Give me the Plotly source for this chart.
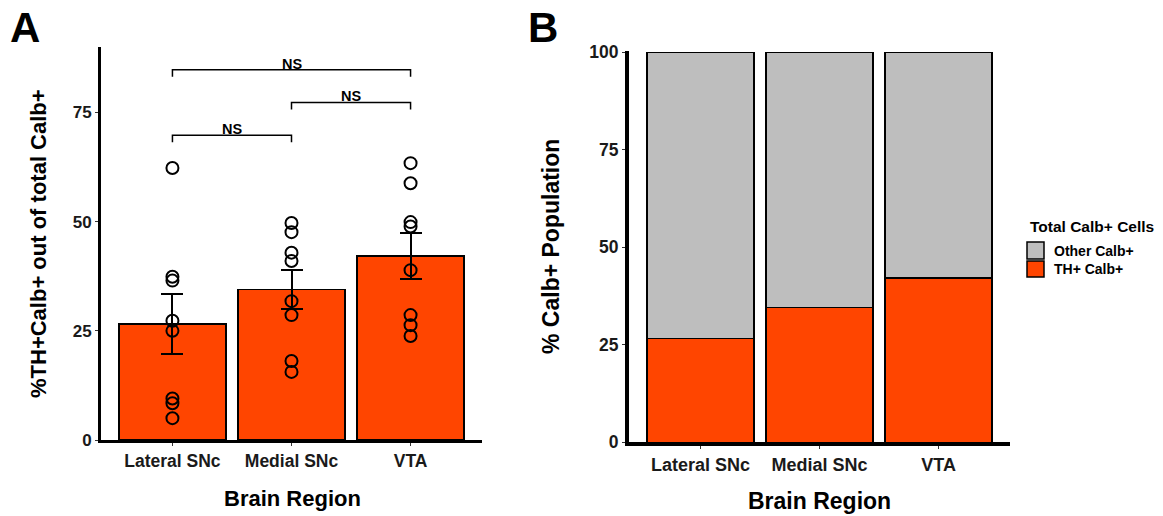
import plotly.graph_objects as go

# ---------------- data ----------------
regions = ["Lateral SNc", "Medial SNc", "VTA"]

# Panel A: individual animals (% TH+Calb+ of total Calb+)
lateral_pts = [62.3, 37.4, 36.5, 27.3, 25.0, 9.5, 8.4, 5.0]
medial_pts = [49.7, 47.6, 42.9, 41.0, 31.8, 28.6, 18.1, 15.6]
vta_pts = [63.4, 58.8, 49.9, 48.9, 38.9, 28.6, 26.3, 23.8]
means_a = [26.6, 34.5, 42.1]
sem_a = [6.8, 4.5, 5.3]

# significance brackets: (group i, group j, height, label)
brackets = [(0, 1, 69.8, "NS"), (1, 2, 77.3, "NS"), (0, 2, 84.8, "NS")]
bracket_tip = 1.6

# Panel B: stacked percentage of Calb+ population
th_calb = [26.6, 34.5, 42.1]
other_calb = [73.4, 65.5, 57.9]

y_ticks_a = [0, 25, 50, 75]
y_ticks_b = [0, 25, 50, 75, 100]

legend_title = "Total Calb+ Cells"
legend_names = ["Other Calb+", "TH+ Calb+"]

# ---------------- style ----------------
ORANGE = "#FF4500"
GREY = "#BEBEBE"
FONT = "Liberation Sans"
FW, FH = 1163, 516


def px(X):
    return X / FW


def py(Y):
    return 1 - Y / FH


def bold(size, color="black"):
    return dict(family=FONT, size=size, color=color, weight="bold")


def label(X, Y, text, size, angle=0, xanchor="center"):
    fig.add_annotation(x=px(X), y=py(Y), xref="paper", yref="paper",
                       xanchor=xanchor, yanchor="middle", text=text,
                       showarrow=False, textangle=angle, font=bold(size))


fig = go.Figure()

# Panel A bars with SEM error bars
fig.add_trace(go.Bar(
    x=regions, y=means_a, width=0.9,
    marker=dict(color=ORANGE, line=dict(color="black", width=1.5)),
    error_y=dict(type="data", array=sem_a, visible=True, color="black",
                 thickness=2, width=11),
    xaxis="x", yaxis="y", showlegend=False, hoverinfo="skip",
))

# Panel A individual points
pts_x, pts_y = [], []
for name, vals in zip(regions, [lateral_pts, medial_pts, vta_pts]):
    pts_x += [name] * len(vals)
    pts_y += vals
fig.add_trace(go.Scatter(
    x=pts_x, y=pts_y, mode="markers",
    marker=dict(symbol="circle-open", size=12, color="black",
                line=dict(width=2, color="black")),
    xaxis="x", yaxis="y", showlegend=False, hoverinfo="skip", cliponaxis=False,
))

# Brackets
for i, j, h, lab in brackets:
    fig.add_trace(go.Scatter(
        x=[regions[i], regions[i], regions[j], regions[j]],
        y=[h - bracket_tip, h, h, h - bracket_tip],
        mode="lines", line=dict(color="black", width=1.5),
        xaxis="x", yaxis="y", showlegend=False, hoverinfo="skip", cliponaxis=False,
    ))
    fig.add_annotation(
        x=(i + j) / 2, y=h, xref="x", yref="y", text=lab, showarrow=False,
        xanchor="center", yanchor="bottom", yshift=-4, font=bold(14.5),
    )

# Panel B stacked bars
fig.add_trace(go.Bar(
    x=regions, y=th_calb, width=0.9, name=legend_names[1],
    marker=dict(color=ORANGE, line=dict(color="black", width=1.5)),
    xaxis="x2", yaxis="y2", hoverinfo="skip", showlegend=False,
))
fig.add_trace(go.Bar(
    x=regions, y=other_calb, width=0.9, name=legend_names[0],
    marker=dict(color=GREY, line=dict(color="black", width=1.5)),
    xaxis="x2", yaxis="y2", hoverinfo="skip", showlegend=False,
))

common_axis = dict(showgrid=False, zeroline=False, showline=True,
                   linecolor="black", ticks="outside", ticklen=3,
                   tickcolor="#333333", tickwidth=1, automargin=False)

fig.update_layout(
    width=FW, height=FH,
    margin=dict(l=0, r=0, t=0, b=0, autoexpand=False),
    paper_bgcolor="white", plot_bgcolor="white",
    barmode="stack",
    font=dict(family=FONT, color="black"),
    showlegend=False,
    xaxis=dict(domain=[px(101), px(482)], range=[-0.6, 2.6], type="category",
               linewidth=3, tickfont=bold(17.5, "#1a1a1a"),
               anchor="y", **common_axis),
    yaxis=dict(domain=[py(440), py(47)], range=[0, 90],
               tickvals=y_ticks_a, linewidth=3, tickfont=bold(17, "#1a1a1a"),
               anchor="x", **common_axis),
    xaxis2=dict(domain=[px(629), px(1010)], range=[-0.6, 2.6], type="category",
                linewidth=4, tickfont=bold(18, "#1a1a1a"),
                anchor="y2", **common_axis),
    yaxis2=dict(domain=[py(442.3), py(50.7)], range=[0, 100.4],
                tickvals=y_ticks_b, linewidth=4, tickfont=bold(17.5, "#1a1a1a"),
                anchor="x2", **common_axis),
)

# Manual legend for panel B
label(1028, 226, legend_title, 15.5, xanchor="left")
legend_rows = [(legend_names[0], GREY, 242, 259), (legend_names[1], ORANGE, 261, 277)]
for name, col, y0, y1 in legend_rows:
    fig.add_shape(type="rect", xref="paper", yref="paper",
                  x0=px(1027), x1=px(1044), y0=py(y1), y1=py(y0),
                  fillcolor=col, line=dict(color="black", width=1.5))
    label(1052, (y0 + y1) / 2, name, 14, xanchor="left")

# Axis titles & panel letters
label(292, 498, "Brain Region", 22)
label(819, 501, "Brain Region", 23)
label(39, 244, "%TH+Calb+ out of total Calb+", 22, angle=-90)
label(551, 247, "% Calb+ Population", 23, angle=-90)
label(25, 28, "A", 42)
label(543, 28, "B", 42)

fig.write_html(
    "out.html",
    config={"displayModeBar": False},
    post_script="document.body.style.margin='0px';"
                "document.body.style.overflow='hidden';",
)
